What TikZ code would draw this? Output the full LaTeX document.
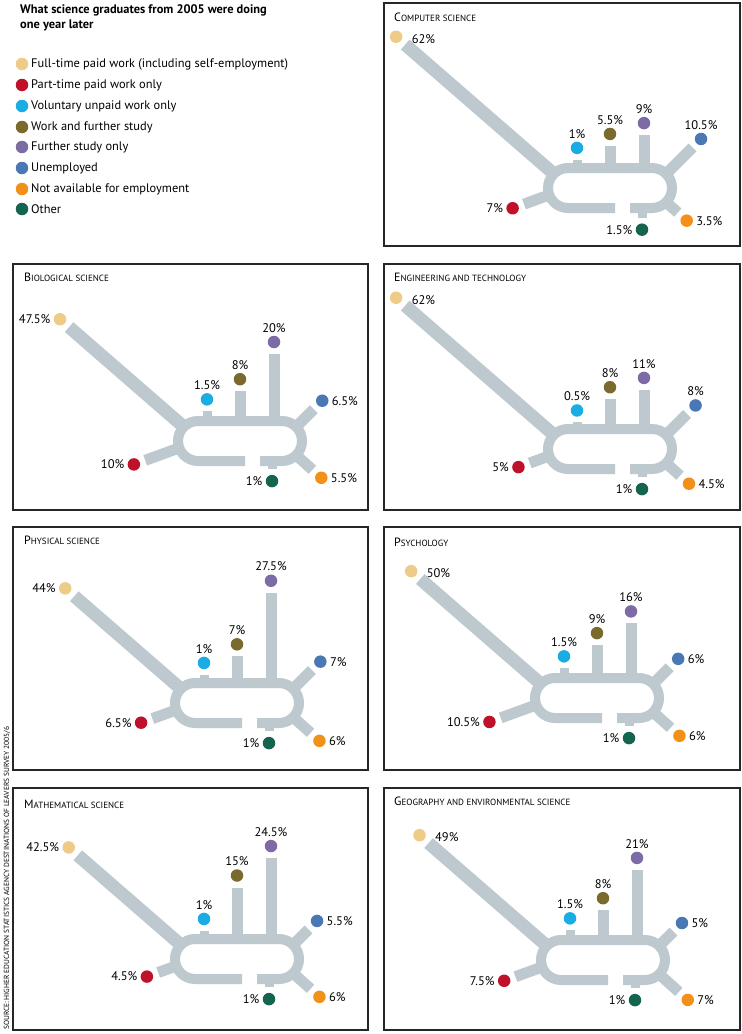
\documentclass[tikz,border=0pt]{standalone}
\usepackage{fontspec}
\setmainfont{PT Sans}
\usetikzlibrary{calc}
\definecolor{cft}{HTML}{EECB86}
\definecolor{cpt}{HTML}{C0112B}
\definecolor{cvol}{HTML}{1AADE4}
\definecolor{cwork}{HTML}{7B6A2E}
\definecolor{cfur}{HTML}{7D6BA6}
\definecolor{cun}{HTML}{4A78B5}
\definecolor{cna}{HTML}{F39019}
\definecolor{cot}{HTML}{13654F}
\definecolor{ctrack}{HTML}{BDC9CF}
\tikzset{
  track/.style={draw=ctrack,line cap=butt},
  dot/.style={circle,inner sep=0pt,minimum size=12.5pt,draw=none},
  lbl/.style={font=\fontsize{12.5}{12.5}\selectfont,inner sep=1pt,label distance=2pt},
  ftx/.style={},
  box/.style={draw=black!85,line width=1.8pt},
  ttl/.style={anchor=west,inner sep=0pt},
  leg/.style={anchor=west,inner sep=0pt,font=\fontsize{12.4}{12.4}\selectfont},
}
\newcommand\sct[2]{{\fontsize{12}{12}\selectfont #1}{\fontsize{9}{9}\selectfont #2}}
\newcommand\ringtrack{%
  \draw[track,line width=10pt] (20,20) -- (42,20) arc(90:-90:20) -- (-42,-20) arc(-90:-270:20) -- (5,20);}
\newcommand\br[8]{%
  \pgfmathsetmacro\brLen{3.1*#4+5}%
  \pgfmathsetmacro\brDot{3.1*#4+17}%
  \coordinate (#1-s) at (#2);
  \coordinate (#1-e) at ($(#2)+(#3:\brLen)$);
  \draw[track,line width=#7pt] (#1-s) -- (#1-e);
  \node[dot,fill=#5,label={[lbl,#8]#6:#4\%}] (#1) at ($(#2)+(#3:\brDot)$) {};}
\newcommand\panel[9]{%
  \br{#1-ft}{-56,-14}{-139}{#2}{cft}{\sft}{13}{ftx}
  \br{#1-pt}{-61,7}{160}{#3}{cpt}{left}{11}{lbl}
  \br{#1-vol}{-33,-20}{-90}{#4}{cvol}{above}{9}{lbl}
  \br{#1-wk}{0,-20}{-90}{#5}{cwork}{above}{11}{lbl}
  \br{#1-fu}{34,-20}{-90}{#6}{cfur}{above}{11}{lbl}
  \br{#1-un}{56,-14}{-45}{#7}{cun}{\sun}{11}{lbl}
  \br{#1-na}{56,14}{42}{#8}{cna}{right}{11}{lbl}
  \br{#1-ot}{32,20}{90}{#9}{cot}{left}{9}{lbl}
  \ringtrack}
\newcommand\ftright{\tikzset{ftx/.style={label distance=8pt,yshift=-2pt}}}
\newcommand\ftleft{\tikzset{ftx/.style={}}}
\begin{document}
\begin{tikzpicture}[x=1pt,y=-1pt]
\useasboundingbox[fill=white] (0,0) rectangle (742,1034);
\node[ttl,font=\bfseries\fontsize{12.4}{15}\selectfont,align=left,anchor=north west] (title) at (20,4) {What science graduates from 2005 were doing\\one year later};
\foreach \c/\t/\y [count=\i] in {cft/Full-time paid work (including self-employment)/64,
  cpt/Part-time paid work only/85, cvol/Voluntary unpaid work only/106,
  cwork/Work and further study/127, cfur/Further study only/147,
  cun/Unemployed/168, cna/Not available for employment/189, cot/Other/209}{
  \node[dot,fill=\c] (ld\i) at (22,\y) {};
  \node[leg] (lt\i) at (31,\y) {\t};
}
\node[rotate=90,font=\fontsize{7.4}{7.4}\selectfont,anchor=west,inner sep=0pt] (src) at (7,1030) {SOURCE: HIGHER EDUCATION STATISTICS AGENCY DESTINATIONS OF LEAVERS SURVEY 2005/6};
% Computer science
\def\sft{right}\def\sun{above}\ftright
\begin{scope}[shift={(610,188)}]\panel{cs}{62}{7}{1}{5.5}{9}{10.5}{3.5}{1.5}\end{scope}
\draw[box] (384,3) rectangle (740,246);
\node[ttl] (cs-t) at (394,17) {\sct{C}{OMPUTER SCIENCE}};
% Biological
\def\sft{left}\def\sun{right}\ftleft
\begin{scope}[shift={(240,441)}]\panel{bi}{47.5}{10}{1.5}{8}{20}{6.5}{5.5}{1}\end{scope}
\draw[box] (13,264) rectangle (368,510);
\node[ttl] (bi-t) at (24,277) {\sct{B}{IOLOGICAL SCIENCE}};
% Engineering
\def\sft{right}\def\sun{above}\ftright
\begin{scope}[shift={(610,449)}]\panel{en}{62}{5}{0.5}{8}{11}{8}{4.5}{1}\end{scope}
\draw[box] (384,264) rectangle (740,510);
\node[ttl] (en-t) at (394,277) {\sct{E}{NGINEERING AND TECHNOLOGY}};
% Physical
\def\sft{left}\def\sun{right}\ftleft
\begin{scope}[shift={(237,703)}]\panel{ph}{44}{6.5}{1}{7}{27.5}{7}{6}{1}\end{scope}
\draw[box] (13,527) rectangle (368,770);
\node[ttl] (ph-t) at (24,540) {\sct{P}{HYSICAL SCIENCE}};
% Psychology
\def\sft{right}\def\sun{right}\ftright
\begin{scope}[shift={(597,698)}]\panel{ps}{50}{10.5}{1.5}{9}{16}{6}{6}{1}\end{scope}
\draw[box] (384,527) rectangle (740,770);
\node[ttl] (ps-t) at (394,542) {\sct{P}{SYCHOLOGY}};
% Mathematical
\def\sft{left}\def\sun{right}\ftleft
\begin{scope}[shift={(237,959)}]\panel{ma}{42.5}{4.5}{1}{15}{24.5}{5.5}{6}{1}\end{scope}
\draw[box] (13,788) rectangle (368,1030);
\node[ttl] (ma-t) at (24,804) {\sct{M}{ATHEMATICAL SCIENCE}};
% Geography
\def\sft{right}\def\sun{right}\ftright
\begin{scope}[shift={(603,960)}]\panel{ge}{49}{7.5}{1.5}{8}{21}{5}{7}{1}\end{scope}
\draw[box] (384,788) rectangle (740,1030);
\node[ttl] (ge-t) at (394,801) {\sct{G}{EOGRAPHY AND ENVIRONMENTAL SCIENCE}};
\end{tikzpicture}
\end{document}
